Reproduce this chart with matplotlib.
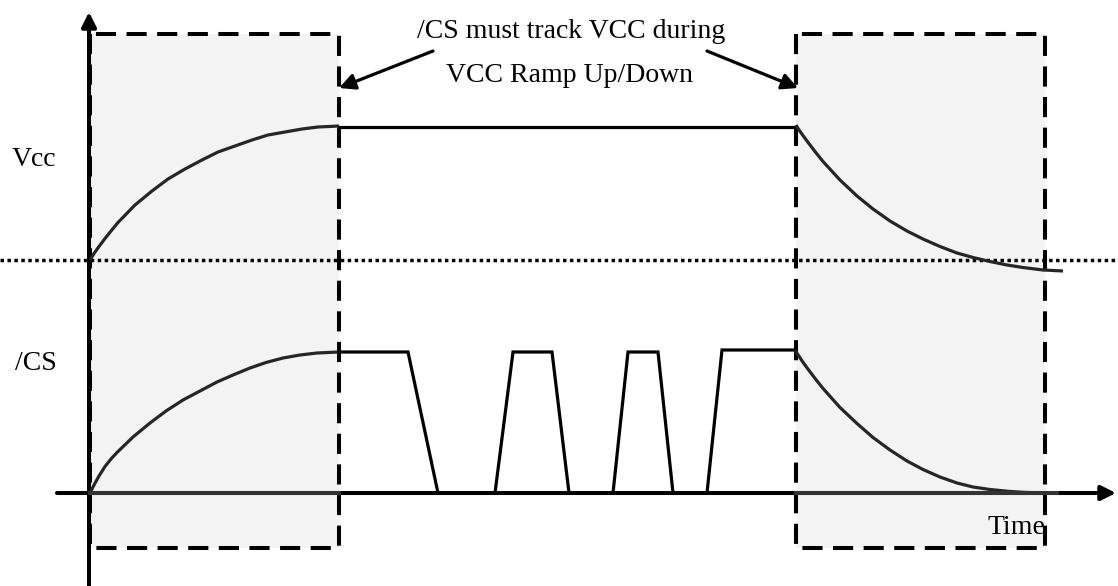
import matplotlib.pyplot as plt
import matplotlib.patches as patches

# 波形データ(画像のピクセル座標で読み取り, yは下向き)
vcc_rise_x = [90, 94, 99, 105, 111, 118, 135, 152, 168, 185, 202, 218, 235, 252, 268, 285, 302, 318, 339]
vcc_rise_y = [260, 253.5, 246.5, 238.5, 231, 222.5, 205, 191, 179, 169, 160, 152, 146, 140, 135, 132, 129, 127, 126]
vcc_high_x = [339, 796]
vcc_high_y = [127, 127]
vcc_fall_x = [796, 799, 803, 807, 815, 823, 840, 857, 873, 890, 907, 923, 940, 957, 973, 990, 1007, 1023, 1043, 1063]
vcc_fall_y = [125, 130, 135.5, 141, 151.5, 161.5, 180, 196, 209, 221, 231, 239, 246.5, 253, 257.5, 261.5, 265, 267.5, 270, 271]

cs_rise_x = [90, 94, 99, 105, 111, 117, 133, 150, 166, 183, 200, 217, 233, 250, 266, 283, 300, 317, 339]
cs_rise_y = [493, 485, 476, 466.5, 459, 452.5, 437, 423, 411, 400, 391, 382, 375, 368, 362.5, 358, 355, 353, 352]
cs_pulse_x = [339, 408, 438, 495, 513, 552, 569, 613, 628, 658, 673, 707, 722, 796]
cs_pulse_y = [352, 352, 493, 493, 352, 352, 493, 493, 352, 352, 493, 493, 350, 350]
cs_fall_x = [795, 798, 802, 807, 815, 823, 840, 857, 873, 890, 907, 923, 940, 957, 973, 990, 1007, 1023, 1043, 1057]
cs_fall_y = [350, 354.8, 360.8, 367.8, 378.4, 388.4, 407.5, 423.5, 437.5, 450, 461, 469.5, 477, 483, 487, 489.5, 491.2, 492.3, 493, 493]

# ランプ区間(左, 右)
ramp_boxes = [(90, 339), (796, 1045)]
box_top = 34
box_bottom = 548
threshold_y = 260

labels = ['Vcc', '/CS', 'Time']
note_lines = ['/CS must track VCC during', 'VCC Ramp Up/Down']

fig = plt.figure(figsize=(11.18, 5.86), dpi=100)
ax = fig.add_axes([0, 0, 1, 1])
ax.set_xlim(0, 1118)
ax.set_ylim(586, 0)
ax.axis('off')

# ランプ区間の枠
for left, right in ramp_boxes:
    r = patches.Rectangle((left, box_top), right - left, box_bottom - box_top,
                          facecolor='#f3f3f3', edgecolor='none', zorder=0)
    ax.add_patch(r)
    ax.plot([left, left, right, right, left], [box_top, box_bottom, box_bottom, box_top, box_top],
            color='k', lw=2.9, linestyle=(0, (5, 2.6)), zorder=2)

# しきい値の点線
ax.plot([0, 1118], [threshold_y, threshold_y], color='k', lw=2.5, linestyle=(0, (1, 1)), zorder=3)

# 軸(矢印)
ax.annotate('', xy=(89, 12), xytext=(89, 586),
            arrowprops=dict(arrowstyle='-|>', lw=2.9, color='k', mutation_scale=22, shrinkA=0, shrinkB=0),
            zorder=4)
ax.annotate('', xy=(1116, 493), xytext=(57, 493),
            arrowprops=dict(arrowstyle='-|>', lw=2.9, color='k', mutation_scale=22, shrinkA=0, shrinkB=0),
            zorder=4)

# Vcc
ax.plot(vcc_rise_x, vcc_rise_y, color='#262626', lw=2.3, zorder=5, solid_capstyle='butt')
ax.plot(vcc_high_x, vcc_high_y, color='k', lw=2.3, zorder=5)
ax.plot(vcc_fall_x, vcc_fall_y, color='#262626', lw=2.3, zorder=5, solid_capstyle='butt')

# /CS
ax.plot(cs_rise_x, cs_rise_y, color='#262626', lw=2.3, zorder=5, solid_capstyle='butt')
ax.plot([90, 339], [493, 493], color='#333333', lw=2.9, zorder=5)
ax.plot(cs_pulse_x, cs_pulse_y, color='k', lw=2.3, zorder=5, solid_joinstyle='miter')
ax.plot(cs_fall_x, cs_fall_y, color='#262626', lw=2.3, zorder=5, solid_capstyle='butt')
ax.plot([796, 1057], [493, 493], color='#333333', lw=2.9, zorder=5)

# ラベル
font = dict(family=['Liberation Serif', 'DejaVu Serif'], fontsize=20, color='k')
ax.text(12, 160, labels[0], ha='left', va='center', **font)
ax.text(15, 364, labels[1], ha='left', va='center', **font)
ax.text(1045, 528, labels[2], ha='right', va='center', zorder=6, **font)
ax.text(571, 31, note_lines[0], ha='center', va='center', **font)
ax.text(570, 76, note_lines[1], ha='center', va='center', **font)

# 注記の矢印
for start, end in [((433, 51), (339, 88)), ((707, 51), (798, 88))]:
    ax.annotate('', xy=end, xytext=start,
                arrowprops=dict(arrowstyle='-|>', lw=2.3, color='k', mutation_scale=24, shrinkA=0, shrinkB=0),
                zorder=6)

plt.savefig('out.png', dpi=100)
